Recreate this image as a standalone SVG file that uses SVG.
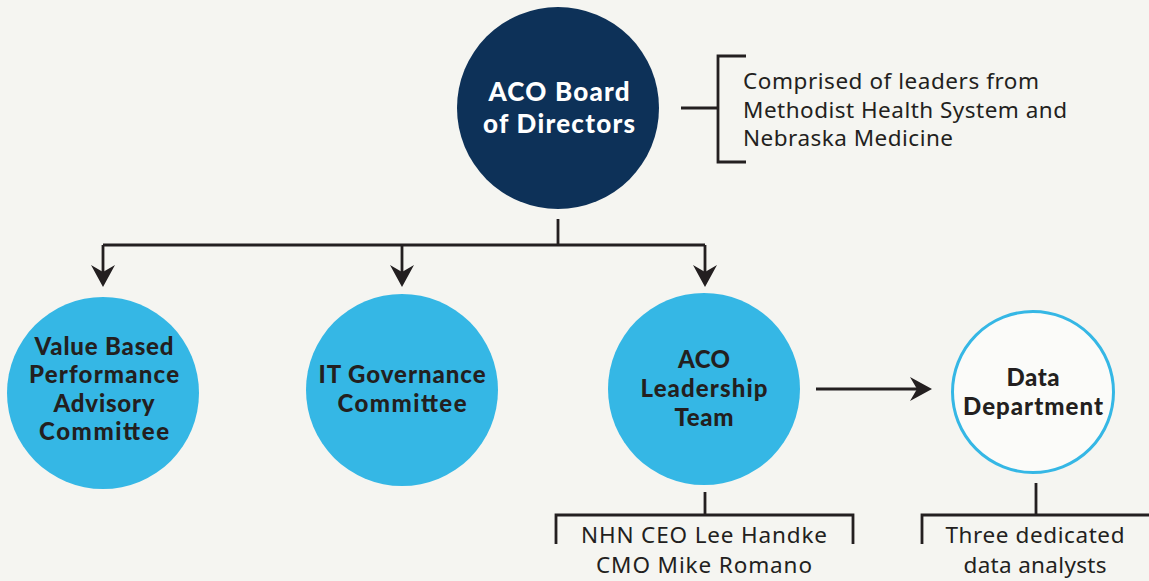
<svg xmlns="http://www.w3.org/2000/svg" width="1149" height="581" viewBox="0 0 1149 581">
  <defs>
    <marker id="arr" markerUnits="userSpaceOnUse" viewBox="0 0 22 24" refX="7" refY="12" markerWidth="22" markerHeight="24" orient="auto">
      <path d="M0,0 L22,12 L0,24 L7,12 Z" fill="#231f20"/>
    </marker>
    <style>
      .ln{fill:none;stroke:#231f20;stroke-width:2.8;stroke-linecap:butt}
      .b{font-family:Lato,"Liberation Sans",sans-serif;font-weight:900;font-size:24px;fill:#231f20;text-anchor:middle}
      .w{fill:#ffffff;font-size:26px}
      .r{font-family:"Noto Sans","Liberation Sans",sans-serif;font-weight:400;font-size:22.5px;fill:#231f20}
      .c{text-anchor:middle}
      .solid{fill:#35b7e5}
    </style>
  </defs>
  <rect width="1149" height="581" fill="#f5f5f1"/>

  <g id="connectors">
    <path class="ln" d="M558,219 V245 M103,245 H705"/>
    <path class="ln" d="M103,245 V272" marker-end="url(#arr)"/>
    <path class="ln" d="M402,245 V272" marker-end="url(#arr)"/>
    <path class="ln" d="M705,245 V272" marker-end="url(#arr)"/>
    <path class="ln" d="M816,389 H917" marker-end="url(#arr)"/>
    <path class="ln" d="M681,108 H718 M746,56 H718 V162 H746"/>
    <path class="ln" d="M705,492 V515 M556,544 V515 H853 V544"/>
    <path class="ln" d="M1036,483 V515 M922,544 V515 H1149"/>
  </g>

  <g id="board">
    <circle cx="558" cy="108" r="101" fill="#0d3158"/>
    <text class="b w" x="559" y="101" textLength="141">ACO Board</text>
    <text class="b w" x="559" y="133" textLength="152">of Directors</text>
  </g>

  <g id="board-note">
    <text class="r" x="743" y="89" textLength="296">Comprised of leaders from</text>
    <text class="r" x="743" y="118" textLength="324">Methodist Health System and</text>
    <text class="r" x="743" y="146" textLength="210">Nebraska Medicine</text>
  </g>

  <g id="value-based">
    <circle class="solid" cx="103" cy="393" r="96"/>
    <text class="b" x="104" y="355" textLength="139">Value Based</text>
    <text class="b" x="104" y="383" textLength="150">Performance</text>
    <text class="b" x="104" y="412" textLength="101">Advisory</text>
    <text class="b" x="104" y="440" textLength="130">Committee</text>
  </g>

  <g id="it-governance">
    <circle class="solid" cx="402" cy="390" r="96"/>
    <text class="b" x="402" y="383" textLength="167">IT Governance</text>
    <text class="b" x="402" y="412" textLength="129">Committee</text>
  </g>

  <g id="leadership">
    <circle class="solid" cx="704" cy="389" r="96"/>
    <text class="b" x="704" y="368" textLength="52">ACO</text>
    <text class="b" x="704" y="397" textLength="127">Leadership</text>
    <text class="b" x="704" y="426" textLength="59">Team</text>
  </g>

  <g id="leadership-note">
    <text class="r c" x="704" y="543" textLength="246">NHN CEO Lee Handke</text>
    <text class="r c" x="704" y="573" textLength="216">CMO Mike Romano</text>
  </g>

  <g id="data-department">
    <circle cx="1033" cy="392" r="80.5" fill="#fbfbf9" stroke="#35b7e5" stroke-width="3"/>
    <text class="b" x="1033" y="386" textLength="53">Data</text>
    <text class="b" x="1033" y="415" textLength="140">Department</text>
  </g>

  <g id="data-note">
    <text class="r c" x="1035" y="543" textLength="179">Three dedicated</text>
    <text class="r c" x="1035" y="573" textLength="143">data analysts</text>
  </g>
</svg>
